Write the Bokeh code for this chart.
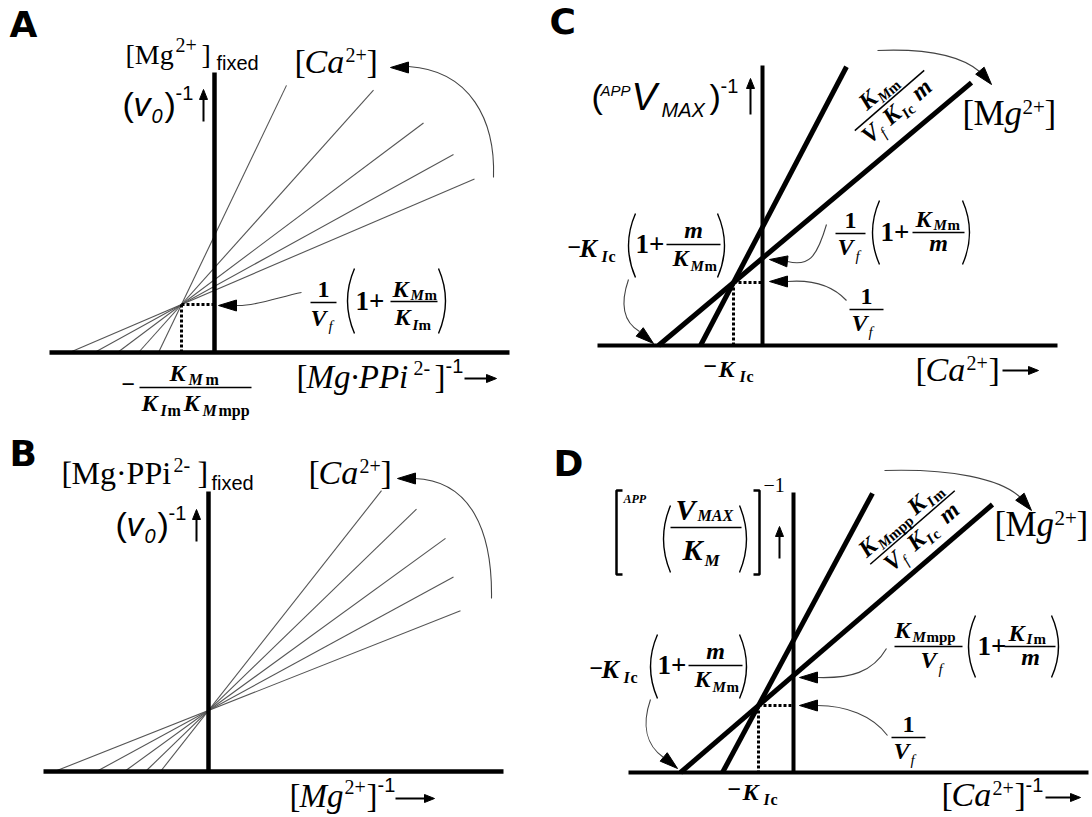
import math
from bokeh.plotting import figure
from bokeh.models import Range1d, Label
from bokeh.layouts import column, row
from bokeh.embed import file_html
from bokeh.resources import INLINE

# ---------------- data (schematic double-reciprocal plots) ----------------
AXIS_X = [-165, 295]          # extent of the abscissa in each panel
AXIS_Y_TOP = 280              # extent of the ordinate in each panel
A_X_INTERCEPTS = [-145, -120, -97, -76, -56]
A_END_X = [260, 239, 209, 159, 72]
A_CONVERGENCE = [-33, 48]
B_X_INTERCEPTS = [-154, -112, -84, -63, -48]
B_END_X = [252, 245, 237, 208, 173]
B_CONVERGENCE = [0, 61]
C_X_INTERCEPTS = [-62, -104]
C_END_X = [84, 209]
C_CONVERGENCE = [-29, 63]
D_X_INTERCEPTS = [-71, -113]
D_END_X = [79, 199]
D_CONVERGENCE = [-35, 67]

SERIF = "Liberation Serif"
SANS = "Liberation Sans"
LETTER_FONT = "DejaVu Sans"
BI = "bold italic"
BASE_SHIFT = 0.36   # measured offset between requested and drawn baseline


class Panel:
    def __init__(self, left, top, w, h, ox, oy):
        self.ox, self.oy = ox, oy
        p = figure(width=w, height=h,
                   x_range=Range1d(left - ox, left + w - ox),
                   y_range=Range1d(oy - (top + h), oy - top),
                   output_backend="svg", toolbar_location=None, tools="",
                   min_border=0, x_axis_location=None, y_axis_location=None)
        p.xgrid.visible = False
        p.ygrid.visible = False
        p.outline_line_color = None
        p.background_fill_color = "white"
        p.border_fill_color = "white"
        self.fig = p

    def P(self, x, y):
        return x - self.ox, self.oy - y

    def text(self, x, y, s, size, style="normal", font=SERIF, align="left", angle=0.0):
        a = math.radians(angle)
        nx, ny = -math.sin(a), -math.cos(a)
        x = x + BASE_SHIFT * size * nx
        y = y + BASE_SHIFT * size * ny
        dx, dy = self.P(x, y)
        self.fig.add_layout(Label(x=dx, y=dy, text=s, text_font=font,
                                  text_font_size=f"{size}px", text_font_style=style,
                                  text_align=align, text_baseline="alphabetic",
                                  angle=a, text_color="black"))

    def run(self, x, y, pieces, angle=0.0):
        a = math.radians(angle)
        ex, ey = math.cos(a), -math.sin(a)
        nx, ny = -math.sin(a), -math.cos(a)
        for pc in pieces:
            du, dv, s, size = pc[:4]
            style = pc[4] if len(pc) > 4 else "normal"
            font = pc[5] if len(pc) > 5 else SERIF
            align = pc[6] if len(pc) > 6 else "left"
            self.text(x + du * ex + dv * nx, y + du * ey + dv * ny, s, size, style, font, align, angle)

    def rseg(self, x, y, u0, u1, angle, w=1.5):
        a = math.radians(angle)
        ex, ey = math.cos(a), -math.sin(a)
        self.seg(x + u0 * ex, y + u0 * ey, x + u1 * ex, y + u1 * ey, w)

    def seg(self, x0, y0, x1, y1, w=1.5, color="black"):
        a = self.P(x0, y0)
        b = self.P(x1, y1)
        self.fig.segment(x0=[a[0]], y0=[a[1]], x1=[b[0]], y1=[b[1]], line_width=w, line_color=color)

    def curve(self, x0, y0, c0x, c0y, c1x, c1y, x1, y1, w=1.1, color="#444444"):
        a = self.P(x0, y0); b = self.P(x1, y1)
        c = self.P(c0x, c0y); d = self.P(c1x, c1y)
        self.fig.bezier(x0=[a[0]], y0=[a[1]], x1=[b[0]], y1=[b[1]],
                        cx0=[c[0]], cy0=[c[1]], cx1=[d[0]], cy1=[d[1]],
                        line_width=w, line_color=color)

    def head(self, tx, ty, deg, L=18, W=11):
        a = math.radians(deg)
        dx, dy = math.cos(a), -math.sin(a)
        bx, by = tx - L * dx, ty - L * dy
        qx, qy = -dy, dx
        pts = [(tx, ty), (bx + W / 2 * qx, by + W / 2 * qy), (bx - W / 2 * qx, by - W / 2 * qy)]
        d = [self.P(*q) for q in pts]
        self.fig.patch([q[0] for q in d], [q[1] for q in d], fill_color="black", line_color="black")

    def right_arrow(self, x0, x1, y):
        self.seg(x0, y, x1 - 6, y, w=2)
        self.head(x1, y, 0, L=10, W=8)

    def up_arrow(self, x, y_bottom, y_top):
        self.seg(x, y_bottom, x, y_top + 6, w=2)
        self.head(x, y_top, 90, L=10, W=8)

    def paren(self, x, y0, y1, side="(", w=1.4):
        if side == "(":
            ex, cx = x + 7, x - 7
        else:
            ex, cx = x - 7, x + 7
        a = self.P(ex, y0); b = self.P(ex, y1); c = self.P(cx, (y0 + y1) / 2)
        self.fig.quadratic(x0=[a[0]], y0=[a[1]], x1=[b[0]], y1=[b[1]], cx=[c[0]], cy=[c[1]],
                           line_width=w, line_color="black")

    def axes(self, w=4.5):
        self.fig.segment(x0=[AXIS_X[0], 0], y0=[0, 0], x1=[AXIS_X[1], 0], y1=[0, AXIS_Y_TOP],
                         line_width=w, line_color="black")

    def fan(self, x_ints, end_xs, conv, width, color):
        xs, ys = [], []
        for xi, xe in zip(x_ints, end_xs):
            slope = conv[1] / (conv[0] - xi)
            xs.append([xi, xe])
            ys.append([0, slope * (xe - xi)])
        self.fig.multi_line(xs, ys, line_width=width, line_color=color)

    def dotted(self, conv):
        self.fig.segment(x0=[conv[0], conv[0]], y0=[conv[1], conv[1]], x1=[0, conv[0]], y1=[conv[1], 0],
                         line_width=3, line_color="black", line_dash="3 2")


A = Panel(0, 0, 546, 420, 214, 352)
C = Panel(546, 0, 546, 420, 762, 345)
B = Panel(0, 420, 546, 397, 208, 771)
D = Panel(546, 420, 546, 397, 793, 772)

# ---------------- lines ----------------
A.fan(A_X_INTERCEPTS, A_END_X, A_CONVERGENCE, 1.1, "#555555")
A.axes(4.5)
A.dotted(A_CONVERGENCE)
B.fan(B_X_INTERCEPTS, B_END_X, B_CONVERGENCE, 1.1, "#555555")
B.axes(4.5)
C.axes(4)
C.fan(C_X_INTERCEPTS, C_END_X, C_CONVERGENCE, 5, "black")
C.dotted(C_CONVERGENCE)
D.axes(4)
D.fan(D_X_INTERCEPTS, D_END_X, D_CONVERGENCE, 5, "black")
D.dotted(D_CONVERGENCE)

# ---------------- shared label pieces ----------------
VO_LABEL = [(0, 0, "(", 34, "normal", SANS), (11, 0, "v", 34, "italic", SANS),
            (29, -7, "0", 20, "italic", SANS), (42, 0, ")", 34, "normal", SANS),
            (53, 16, "-1", 20, "normal", SANS)]
CA_LABEL = [(0, 0, "[", 34), (10, 0, "Ca", 34, "italic"), (51, 11, "2+", 20), (72, 0, "]", 34)]
MG_LABEL = [(0, 0, "[", 35), (11, 0, "M", 35), (42, 0, "g", 35, "italic"), (60, 12, "2+", 21), (82, 0, "]", 35)]


def left_label(pn, xp, yb):
    pn.text(xp - 61, yb + 12, "\u2212", 24, "bold")
    pn.text(xp - 49, yb + 13, "K", 26, BI)
    pn.text(xp - 27, yb + 18, "I", 16, BI)
    pn.text(xp - 20, yb + 18, "c", 16, "bold")
    pn.paren(xp, yb - 31, yb + 33, "(")
    pn.text(xp + 7, yb + 9, "1+", 27, "bold")
    pn.seg(xp + 38, yb, xp + 92, yb)
    pn.text(xp + 65, yb - 6, "m", 24, BI, align="center")
    pn.text(xp + 44, yb + 22, "K", 24, BI)
    pn.text(xp + 62, yb + 27, "M", 15, BI)
    pn.text(xp + 76, yb + 27, "m", 15, "bold")
    pn.paren(xp + 96, yb - 31, yb + 33, ")")


def lower_label(pn, xb, yb):
    pn.text(xb + 17, yb - 4, "1", 24, "bold", align="center")
    pn.seg(xb, yb, xb + 34, yb)
    pn.text(xb + 2, yb + 22, "V", 24, BI)
    pn.text(xb + 19, yb + 28, "f", 15, "italic")


def minus_kic(pn, x, y):
    pn.text(x, y - 2, "\u2212", 24, "bold")
    pn.text(x + 15, y, "K", 24, BI)
    pn.text(x + 36, y + 5, "I", 16, BI)
    pn.text(x + 43, y + 5, "c", 16, "bold")


# ---------------- panel A ----------------
A.text(9, 37, "A", 36, "bold", LETTER_FONT)
A.run(125, 64, [(0, 0, "[Mg", 28), (50, 12, "2+", 20), (76, 0, "]", 28),
                (91, -6, "fixed", 20, "normal", SANS)])
A.run(122, 116, VO_LABEL)
A.up_arrow(203, 121, 89)
A.run(294, 73, CA_LABEL)
# 1/Vf (1 + KMm/KIm)
A.text(323, 298, "1", 24, "bold", align="center")
A.seg(310, 302, 336, 302)
A.text(310, 326, "V", 24, BI)
A.text(328, 331, "f", 15, "italic")
A.paren(347, 268, 333, "(")
A.text(355, 310, "1+", 27, "bold")
A.seg(390, 301, 437, 301)
A.text(392, 297, "K", 24, BI)
A.text(410, 300, "M", 15, BI)
A.text(424, 300, "m", 15, "bold")
A.text(394, 325, "K", 24, BI)
A.text(412, 330, "I", 15, BI)
A.text(418, 330, "m", 15, "bold")
A.paren(445, 268, 333, ")")
A.curve(301, 292, 280, 296, 255, 306, 236, 305)
A.head(218, 305, 180)
# -KMm / (KIm KMmpp)
A.text(121, 393, "\u2212", 24, "bold")
A.seg(139, 387, 251, 387)
A.text(169, 381, "K", 24, BI)
A.text(188, 385, "M", 16, BI)
A.text(205, 385, "m", 16, "bold")
A.text(141, 411, "K", 24, BI)
A.text(160, 416, "I", 16, BI)
A.text(167, 416, "m", 16, "bold")
A.text(183, 411, "K", 24, BI)
A.text(202, 416, "M", 16, BI)
A.text(218, 416, "mpp", 16, "bold")
A.run(296, 388, [(0, 0, "[", 33), (10, 0, "Mg\u00b7PPi", 33, "italic"), (117, 13, "2-", 20),
                 (138, 0, "]", 33), (149, 15, "-1", 20, "normal", SANS)])
A.right_arrow(464, 496, 378)
A.curve(493, 177, 495, 120, 470, 70, 408, 66)
A.head(390, 67, 180)

# ---------------- panel B ----------------
B.text(9, 466, "B", 36, "bold", LETTER_FONT)
B.run(61, 484, [(0, 0, "[", 32), (10, 0, "Mg\u00b7PPi", 32), (112, 12, "2-", 20), (136, 0, "]", 32),
                (150, -6, "fixed", 20, "normal", SANS)])
B.run(115, 536, VO_LABEL)
B.up_arrow(196, 541, 509)
B.run(308, 484, CA_LABEL)
B.run(289, 807, [(0, 0, "[", 33), (10, 0, "Mg", 33, "italic"), (55, 13, "2+", 20), (77, 0, "]", 33),
                 (88, 15, "-1", 20, "normal", SANS)])
B.right_arrow(395, 434, 798)
B.curve(491, 598, 492, 530, 470, 480, 414, 478)
B.head(397, 478, 180)

# ---------------- panel C ----------------
C.text(549, 34, "C", 36, "bold", LETTER_FONT)
C.run(591, 108, [(0, 0, "(", 34, "normal", SANS), (9, 13, "APP", 15, "italic", SANS),
                 (40, -2, "V", 38, "italic", SANS), (70, -9, "MAX", 20, "italic", SANS),
                 (118, 0, ")", 34, "normal", SANS), (129, 15, "-1", 20, "normal", SANS)])
C.up_arrow(750, 114, 78)
C.rseg(889, 100, -46, 46, 41)
C.run(889, 100, [(-24, 6, "K", 24, BI), (-7, 2, "M", 15, BI), (6, 2, "m", 15, "bold"),
                 (-44, -21, "V", 24, BI), (-28, -26, "f", 15, "italic"),
                 (-16, -21, "K", 24, BI), (1, -26, "I", 15, BI), (7, -26, "c", 15, "bold"),
                 (22, -21, "m", 24, BI)], angle=41)
C.run(962, 126, MG_LABEL)
left_label(C, 628, 244)
# 1/Vf (1 + KMm/m)
C.text(850, 229, "1", 24, "bold", align="center")
C.seg(835, 233, 865, 233)
C.text(837, 255, "V", 24, BI)
C.text(855, 261, "f", 15, "italic")
C.paren(872, 200, 264, "(")
C.text(880, 241, "1+", 27, "bold")
C.seg(912, 232, 964, 232)
C.text(915, 227, "K", 24, BI)
C.text(933, 230, "M", 15, BI)
C.text(947, 230, "m", 15, "bold")
C.text(938, 251, "m", 24, BI, align="center")
C.paren(969, 200, 264, ")")
lower_label(C, 849, 309)
C.curve(877, 50, 925, 48, 960, 55, 979, 71)
C.head(991, 84, -50)
C.curve(628, 279, 619, 305, 624, 322, 639, 331)
C.head(653, 343, -40)
C.curve(826, 224, 816, 258, 808, 266, 787, 261)
C.head(769, 259, 174)
C.curve(846, 300, 832, 285, 812, 279, 787, 281)
C.head(769, 281, 180)
minus_kic(C, 703, 377)
C.run(915, 381, [(0, 0, "[", 34), (10, 0, "Ca", 34, "italic"), (51, 11, "2+", 20), (73, 0, "]", 34)])
C.right_arrow(1002, 1038, 370)

# ---------------- panel D ----------------
D.text(553, 476, "D", 36, "bold", LETTER_FONT)
bl = [D.P(622, 490), D.P(616, 490), D.P(616, 574), D.P(622, 574)]
br = [D.P(753, 490), D.P(759, 490), D.P(759, 574), D.P(753, 574)]
D.fig.multi_line([[q[0] for q in bl], [q[0] for q in br]], [[q[1] for q in bl], [q[1] for q in br]],
                 line_width=2.5, line_color="black")
D.text(623, 503, "APP", 12, BI)
D.paren(663, 505, 572, "(")
D.paren(746, 505, 572, ")")
D.text(675, 520, "V", 30, BI)
D.text(697, 521, "MAX", 16, BI)
D.seg(670, 527, 741, 527)
D.text(682, 560, "K", 30, BI)
D.text(704, 566, "M", 17, BI)
D.text(763, 492, "\u22121", 20)
D.up_arrow(779, 558, 526)
D.rseg(912, 527, -56, 56, 41)
D.run(912, 527, [(-55, 6, "K", 24, BI), (-37, 2, "M", 15, BI), (-24, 2, "mpp", 15, "bold"),
                 (10, 6, "K", 24, BI), (28, 2, "I", 15, BI), (35, 2, "m", 15, "bold"),
                 (-45, -21, "V", 24, BI), (-29, -26, "f", 15, "italic"),
                 (-14, -21, "K", 24, BI), (3, -26, "I", 15, BI), (10, -26, "c", 15, "bold"),
                 (28, -21, "m", 24, BI)], angle=41)
D.run(994, 537, MG_LABEL)
left_label(D, 650, 665)
# KMmpp/Vf (1 + KIm/m)
D.text(894, 638, "K", 24, BI)
D.text(912, 642, "M", 15, BI)
D.text(926, 642, "mpp", 15, "bold")
D.seg(894, 646, 962, 646)
D.text(920, 668, "V", 24, BI)
D.text(938, 674, "f", 15, "italic")
D.paren(968, 615, 677, "(")
D.text(977, 655, "1+", 27, "bold")
D.seg(1004, 646, 1055, 646)
D.text(1008, 641, "K", 24, BI)
D.text(1026, 644, "I", 15, BI)
D.text(1033, 644, "m", 15, "bold")
D.text(1030, 665, "m", 24, BI, align="center")
D.paren(1058, 615, 677, ")")
lower_label(D, 891, 737)
D.curve(884, 470, 950, 468, 1000, 478, 1020, 497)
D.head(1031, 510, -50)
D.curve(650, 699, 641, 725, 646, 745, 663, 757)
D.head(677, 768, -40)
D.curve(886, 648, 872, 672, 850, 678, 817, 677)
D.head(799, 677, 180)
D.curve(887, 735, 872, 715, 845, 705, 817, 705)
D.head(799, 705, 180)
minus_kic(D, 727, 800)
D.run(941, 806, [(0, 0, "[", 34), (10, 0, "Ca", 34, "italic"), (51, 11, "2+", 20), (73, 0, "]", 34),
                 (84, 14, "-1", 20, "normal", SANS)])
D.right_arrow(1045, 1080, 797)

layout = column(row(A.fig, C.fig), row(B.fig, D.fig))
open("out.html", "w").write(file_html(layout, INLINE))
